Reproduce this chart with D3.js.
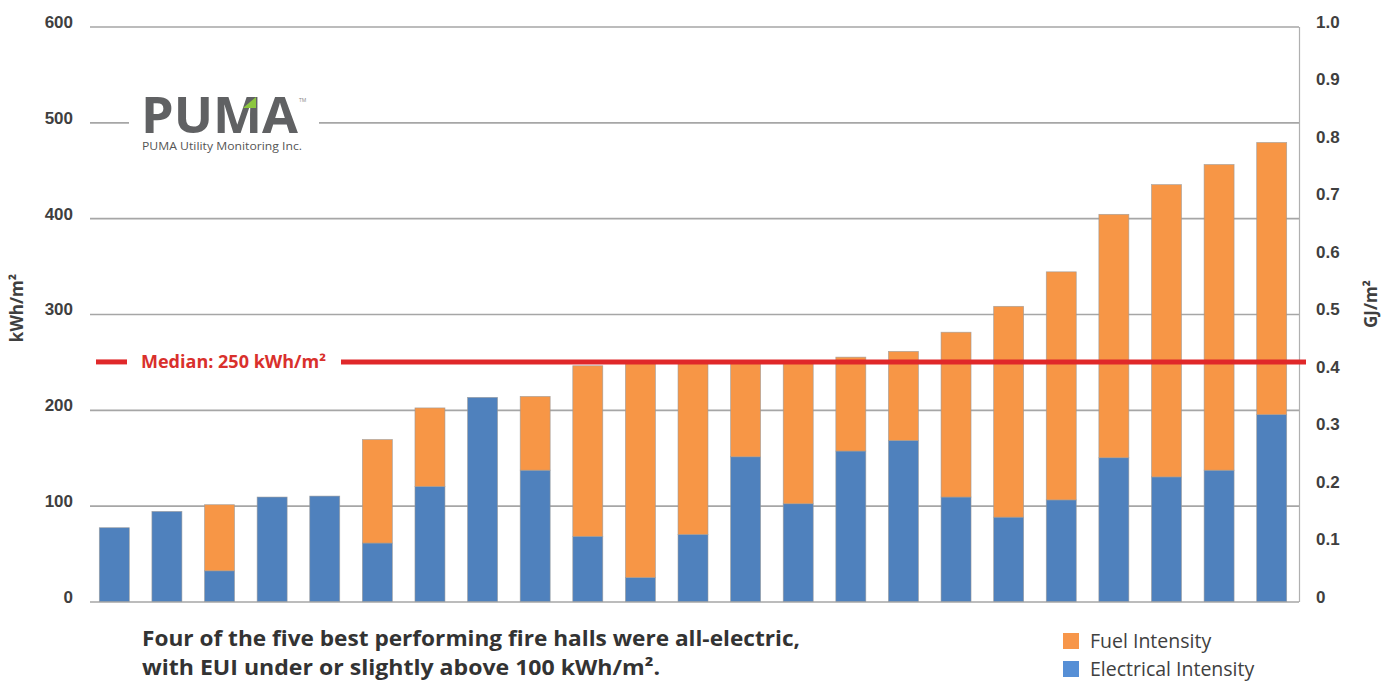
<!DOCTYPE html>
<html>
<head>
<meta charset="utf-8">
<script src="https://cdn.jsdelivr.net/npm/d3@7"></script>
<style>
  body { margin: 0; background: #fff; }
  svg { display: block; font-family: "Open Sans", "Noto Sans", sans-serif; }
</style>
</head>
<body>
<svg id="chart" width="1385" height="681"></svg>
<script>
// Fire halls, ordered by total energy use intensity (kWh/m²)
const halls = ["FH01","FH02","FH03","FH04","FH05","FH06","FH07","FH08","FH09","FH10","FH11","FH12",
               "FH13","FH14","FH15","FH16","FH17","FH18","FH19","FH20","FH21","FH22","FH23"];
const electricalIntensity = [77, 94, 32, 109, 110, 61, 120, 213, 137, 68, 25, 70,
                             151, 102, 157, 168, 109, 88, 106, 150, 130, 137, 195];
const fuelIntensity       = [0, 0, 69, 0, 0, 108, 82, 0, 77, 178, 224, 180,
                             99, 149, 98, 93, 172, 220, 238, 254, 305, 319, 284];
const kwhTicks = [0, 100, 200, 300, 400, 500, 600];
const gjTicks  = [0, 0.1, 0.2, 0.3, 0.4, 0.5, 0.6, 0.7, 0.8, 0.9, 1.0];
const medianEUI = 250;
const seriesKeys   = ["electrical", "fuel"];
const seriesLabels = { fuel: "Fuel Intensity", electrical: "Electrical Intensity" };

const colors       = { electrical: "#4f81bd", fuel: "#f79646" };
const legendColors = { electrical: "#568fd6", fuel: "#f7964a" };

const svg = d3.select("#chart");
const plotLeft = 90, plotRight = 1299, plotBottom = 601.5, plotTop = 26.5;

const x  = d3.scaleBand().domain(halls).range([88, 1298]).paddingInner(0.43).paddingOuter(0.215);
const y  = d3.scaleLinear().domain([0, 600]).range([plotBottom, plotTop]);
const yR = d3.scaleLinear().domain([0, 1]).range([plotBottom, plotTop]);

// Left axis with full-width gridlines
const leftAxis = svg.append("g")
  .attr("transform", `translate(${plotLeft},0)`)
  .call(d3.axisLeft(y).tickValues(kwhTicks).tickSize(-(plotRight - plotLeft)).tickPadding(17));
leftAxis.select(".domain").remove();
leftAxis.selectAll(".tick line").attr("stroke", "#a6a6a6").attr("stroke-width", 1.6);
leftAxis.selectAll(".tick text")
  .attr("dy", "0.05em")
  .style("font-size", "17px").style("font-weight", 700).attr("fill", "#3f3f3f");

// Right axis in GJ/m²
const rightAxis = svg.append("g")
  .attr("transform", `translate(${plotRight},0)`)
  .call(d3.axisRight(yR).tickValues(gjTicks).tickSize(0).tickPadding(17)
        .tickFormat(d => d === 0 ? "0" : d3.format(".1f")(d)));
rightAxis.select(".domain").attr("stroke", "#b0b0b0").attr("stroke-width", 1.2);
rightAxis.selectAll(".tick text")
  .attr("dy", "0.05em")
  .style("font-size", "17px").style("font-weight", 700).attr("fill", "#3f3f3f");

// Axis titles
svg.append("text")
  .attr("transform", `translate(23,${(plotTop + plotBottom) / 2 - 6}) rotate(-90)`)
  .attr("text-anchor", "middle")
  .style("font-size", "17px").style("font-weight", 700).attr("fill", "#3f3f3f")
  .text("kWh/m²");
svg.append("text")
  .attr("transform", `translate(1377,${(plotTop + plotBottom) / 2 - 10}) rotate(-90)`)
  .attr("text-anchor", "middle")
  .style("font-size", "17px").style("font-weight", 700).attr("fill", "#3f3f3f")
  .text("GJ/m²");

// Company logo over the gridlines
const logo = svg.append("g");
logo.append("rect").attr("x", 129).attr("y", 90).attr("width", 190).attr("height", 65).attr("fill", "#fff");
logo.append("text")
  .attr("x", 141).attr("y", 133)
  .attr("textLength", 157).attr("lengthAdjust", "spacingAndGlyphs")
  .style("font-size", "50px").style("font-weight", 700).attr("fill", "#606163")
  .text("PUMA");
logo.append("path").attr("d", "M243,108 L256,97 L256,108 Z").attr("fill", "#8cc63f");
logo.append("text")
  .attr("x", 299).attr("y", 102)
  .style("font-size", "5px").attr("fill", "#888")
  .text("TM");
logo.append("text")
  .attr("x", 142).attr("y", 150)
  .attr("textLength", 160).attr("lengthAdjust", "spacingAndGlyphs")
  .style("font-size", "10.5px").attr("fill", "#555")
  .text("PUMA Utility Monitoring Inc.");

// Stacked bars
const table = halls.map((h, i) => ({ hall: h, electrical: electricalIntensity[i], fuel: fuelIntensity[i] }));
const stacked = d3.stack().keys(seriesKeys)(table);
svg.append("g").selectAll("g")
  .data(stacked)
  .join("g")
  .attr("fill", d => colors[d.key])
  .selectAll("rect")
  .data(d => d.filter(s => s[1] - s[0] > 0))
  .join("rect")
  .attr("x", d => x(d.data.hall))
  .attr("y", d => y(d[1]))
  .attr("width", x.bandwidth())
  .attr("height", d => y(d[0]) - y(d[1]))
  .attr("stroke", "#9a9a9a").attr("stroke-width", 0.7).attr("stroke-opacity", 0.8);

// Median line with label
const medY = y(medianEUI);
const medLabel = svg.append("text")
  .attr("x", 141).attr("y", medY).attr("dy", "0.35em")
  .attr("textLength", 185).attr("lengthAdjust", "spacingAndGlyphs")
  .style("font-size", "17px").style("font-weight", 700).attr("fill", "#d9302c")
  .text(`Median: ${medianEUI} kWh/m²`);
const lb = medLabel.node().getBBox();
svg.append("line").attr("x1", 96).attr("x2", lb.x - 14).attr("y1", medY).attr("y2", medY)
  .attr("stroke", "#e0282a").attr("stroke-width", 5);
svg.append("line").attr("x1", lb.x + lb.width + 15).attr("x2", 1306).attr("y1", medY).attr("y2", medY)
  .attr("stroke", "#e0282a").attr("stroke-width", 5);

// Caption
const caption = svg.append("text")
  .style("font-size", "21.5px").style("font-weight", 700).attr("fill", "#333");
caption.append("tspan").attr("x", 142).attr("y", 646)
  .attr("textLength", 658).attr("lengthAdjust", "spacingAndGlyphs")
  .text("Four of the five best performing fire halls were all-electric,");
caption.append("tspan").attr("x", 142).attr("y", 675)
  .attr("textLength", 518).attr("lengthAdjust", "spacingAndGlyphs")
  .text("with EUI under or slightly above 100 kWh/m².");

// Legend
const legend = svg.append("g");
["fuel", "electrical"].forEach((k, i) => {
  const gy = 633 + i * 28;
  legend.append("rect").attr("x", 1063).attr("y", gy).attr("width", 16).attr("height", 16)
    .attr("fill", legendColors[k]);
  legend.append("text").attr("x", 1090).attr("y", gy + 8).attr("dy", "0.35em")
    .style("font-size", "19.5px").attr("fill", "#404040")
    .text(seriesLabels[k]);
});
</script>
</body>
</html>
